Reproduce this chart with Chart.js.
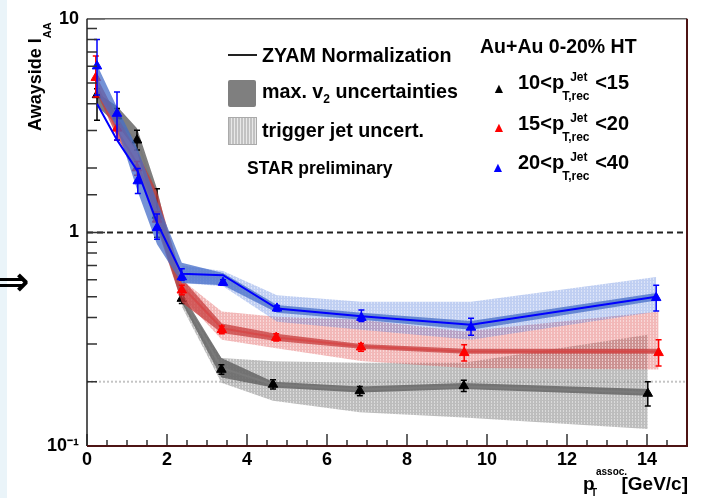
<!DOCTYPE html>
<html>
<head>
<meta charset="utf-8">
<script src="https://cdn.jsdelivr.net/npm/chart.js@4.4.1/dist/chart.umd.min.js"></script>
<style>
  body { margin: 0; background: #fff; }
  #wrap { position: relative; width: 703px; height: 498px; overflow: hidden;
          font-family: "Liberation Sans", Arial, sans-serif; font-weight: bold; color: #000; }
  #strip { position: absolute; left: 0; top: 0; width: 7px; height: 498px; background: #eaf4f9; }
  canvas { position: absolute; left: 0; top: 0; }
  .t { position: absolute; white-space: nowrap; line-height: 1; }
  .t sub { font-size: 12px; vertical-align: -5px; }
  .st { display: inline-block; position: relative; width: 31px; height: 1px; }
  .st .up { position: absolute; left: 6px; top: -17px; font-size: 12px; }
  .st .dn { position: absolute; left: -2px; top: 2px; font-size: 12px; }
  .tri { position: absolute; font-size: 14px; line-height: 1; }
</style>
</head>
<body>
<div id="wrap">
  <div id="strip"></div>
  <canvas id="c" width="703" height="498"></canvas>

  <div class="t" style="left:-4px;top:261px;font-family:'DejaVu Sans';font-size:40px;font-weight:bold">&rArr;</div>

  <div class="t" style="left:26px;top:131px;font-size:18px;line-height:18px;transform-origin:0 0;transform:rotate(-90deg)">Awayside I<sub style="font-size:11px;vertical-align:-10px">AA</sub></div>

  <div class="t" style="left:583px;top:474px;font-size:19px">p</div>
  <div class="t" style="left:596px;top:467px;font-size:10px">assoc.</div>
  <div class="t" style="left:591px;top:488px;font-size:10px">T</div>
  <div class="t" style="right:15px;top:474px;font-size:19px">[GeV/c]</div>

  <div class="t" style="left:228px;top:54px;width:29px;height:0;border-top:2px solid #222"></div>
  <div class="t" style="left:262px;top:46px;font-size:19.7px">ZYAM Normalization</div>
  <div class="t" style="left:228px;top:80px;width:28px;height:27px;background:#7f7f7f;border-radius:2px"></div>
  <div class="t" style="left:262px;top:82px;font-size:19.7px">max. v<sub>2</sub> uncertainties</div>
  <div class="t" style="left:228px;top:117px;width:27px;height:26px;border:1px solid #aaa;background:repeating-linear-gradient(90deg,#c2c2c2 0 2px,#e8e8e8 2px 3px)"></div>
  <div class="t" style="left:262px;top:121px;font-size:19.7px">trigger jet uncert.</div>
  <div class="t" style="left:247px;top:160px;font-size:17.5px">STAR preliminary</div>

  <div class="t" style="left:480px;top:37px;font-size:19.5px">Au+Au 0-20% HT</div>
  <div class="tri" style="left:492px;top:81px;color:#000">&#9650;</div>
  <div class="tri" style="left:492px;top:120px;color:#f00">&#9650;</div>
  <div class="tri" style="left:491px;top:160px;color:#00f">&#9650;</div>
  <div class="t" style="left:518px;top:72px;font-size:20px">10&lt;p<span class="st"><span class="up">Jet</span><span class="dn">T,rec</span></span>&lt;15</div>
  <div class="t" style="left:518px;top:113px;font-size:20px">15&lt;p<span class="st"><span class="up">Jet</span><span class="dn">T,rec</span></span>&lt;20</div>
  <div class="t" style="left:518px;top:152px;font-size:20px">20&lt;p<span class="st"><span class="up">Jet</span><span class="dn">T,rec</span></span>&lt;40</div>
</div>

<script>
// p_T^assoc. bin positions
const xBlack = [0.25, 0.75, 1.25, 1.75, 2.37, 3.36, 4.65, 6.82, 9.42, 14.02];
const xRed   = [0.22, 0.75, 1.25, 1.75, 2.37, 3.37, 4.73, 6.85, 9.43, 14.29];
const xBlue  = [0.25, 0.75, 1.27, 1.75, 2.37, 3.40, 4.75, 6.86, 9.60, 14.23];

// I_AA points with stat. errors
const iaaBlack   = [4.4, 3.5, 2.7, 1.2, 0.49, 0.228, 0.194, 0.181, 0.191, 0.176];
const errLoBlack = [3.35, 3.2, 2.43, 0.95, 0.465, 0.217, 0.185, 0.172, 0.18, 0.154];
const errHiBlack = [4.7, 3.8, 3.01, 1.6, 0.51, 0.24, 0.204, 0.19, 0.203, 0.2];
const iaaRed     = [5.3, 3.07, 2.0, 1.15, 0.536, 0.35, 0.322, 0.29, 0.273, 0.273];
const errLoRed   = [4.3, 2.7, 1.85, 1.05, 0.51, 0.335, 0.31, 0.278, 0.25, 0.237];
const errHiRed   = [6.7, 3.49, 2.15, 1.25, 0.565, 0.365, 0.335, 0.302, 0.298, 0.314];
const iaaBlue    = [6.0, 3.6, 1.74, 1.05, 0.618, 0.582, 0.441, 0.399, 0.359, 0.494];
const errLoBlue  = [4.4, 2.71, 1.52, 0.93, 0.597, 0.565, 0.428, 0.383, 0.33, 0.429];
const errHiBlue  = [8.0, 4.54, 1.99, 1.22, 0.676, 0.6, 0.455, 0.433, 0.396, 0.566];

// ZYAM normalization lines
const zyamBlack = [4.3, 3.3, 2.7, 1.45, 0.5, 0.232, 0.194, 0.184, 0.19, 0.178];
const zyamRed   = [5.0, 3.0, 2.1, 1.25, 0.56, 0.356, 0.322, 0.293, 0.277, 0.277];
const zyamBlue  = [4.0, 2.71, 1.93, 1.11, 0.64, 0.63, 0.44, 0.405, 0.37, 0.5];

// max. v2 uncertainty bands
const v2HiBlack = [4.5, 3.9, 3.07, 1.6, 0.52, 0.258, 0.2, 0.19, 0.197, 0.185];
const v2LoBlack = [3.9, 3.2, 2.4, 1.1, 0.47, 0.209, 0.188, 0.178, 0.185, 0.172];
const v2HiRed   = [5.45, 3.5, 2.4, 1.55, 0.61, 0.375, 0.335, 0.3, 0.285, 0.285];
const v2LoRed   = [4.6, 2.8, 1.95, 1.05, 0.47, 0.338, 0.31, 0.285, 0.27, 0.27];
const v2HiBlue  = [6.1, 3.85, 2.45, 1.4, 0.72, 0.645, 0.457, 0.42, 0.385, 0.52];
const v2LoBlue  = [4.5, 3.1, 1.55, 0.88, 0.58, 0.565, 0.42, 0.39, 0.35, 0.48];

// trigger jet uncertainty bands
const xTrigBlack  = [2.37, 3.36, 4.65, 6.82, 9.42, 14.02];
const trigHiBlack = [0.5, 0.258, 0.249, 0.245, 0.245, 0.332];
const trigLoBlack = [0.45, 0.198, 0.163, 0.144, 0.136, 0.12];
const xTrigRed    = [2.37, 3.37, 4.73, 6.85, 9.43, 14.29];
const trigHiRed   = [0.6, 0.426, 0.403, 0.39, 0.344, 0.426];
const trigLoRed   = [0.5, 0.314, 0.287, 0.25, 0.232, 0.228];
const xTrigBlue   = [2.37, 3.40, 4.75, 6.86, 9.60, 14.23];
const trigHiBlue  = [0.7, 0.66, 0.508, 0.474, 0.474, 0.618];
const trigLoBlue  = [0.58, 0.56, 0.382, 0.35, 0.314, 0.425];

// reference lines
const unityLine = 1;
const dottedLine = 0.2;

const pts = (xs, ys) => xs.map((x, i) => ({ x: x, y: ys[i] }));

function hatch(r, g, b, a) {
  const c = document.createElement('canvas');
  c.width = 3; c.height = 3;
  const g2 = c.getContext('2d');
  g2.fillStyle = 'rgba(' + r + ',' + g + ',' + b + ',' + a + ')';
  g2.fillRect(0, 0, 3, 3);
  g2.fillStyle = 'rgba(255,255,255,0.45)';
  g2.fillRect(2, 0, 1, 1);
  g2.fillRect(2, 2, 1, 1);
  return g2.createPattern(c, 'repeat');
}

function band(xs, lo, hi, fillStyle) {
  return [
    { data: pts(xs, lo), borderWidth: 0, pointRadius: 0, fill: false },
    { data: pts(xs, hi), borderWidth: 0, pointRadius: 0, fill: '-1', backgroundColor: fillStyle }
  ];
}

function group(o) {
  return [].concat(
    band(o.xt, o.tlo, o.thi, o.light),
    band(o.x, o.vlo, o.vhi, o.dark),
    [{ data: pts(o.x, o.zyam), borderColor: o.line, borderWidth: 2, pointRadius: 0, fill: false }],
    [{ data: pts(o.x, o.iaa), showLine: false, pointStyle: 'triangle', pointRadius: 5.5,
       backgroundColor: o.marker, borderColor: o.marker, errLo: o.elo, errHi: o.ehi }]
  );
}

const datasets = [].concat(
  group({ x: xBlack, iaa: iaaBlack, elo: errLoBlack, ehi: errHiBlack, zyam: zyamBlack,
          vlo: v2LoBlack, vhi: v2HiBlack, xt: xTrigBlack, tlo: trigLoBlack, thi: trigHiBlack,
          light: hatch(135, 135, 135, 0.55), dark: 'rgba(95,95,95,0.8)', line: '#7a7a7a', marker: '#000' }),
  group({ x: xRed, iaa: iaaRed, elo: errLoRed, ehi: errHiRed, zyam: zyamRed,
          vlo: v2LoRed, vhi: v2HiRed, xt: xTrigRed, tlo: trigLoRed, thi: trigHiRed,
          light: hatch(225, 85, 85, 0.42), dark: 'rgba(200,60,60,0.75)', line: 'rgba(215,70,70,0.85)', marker: '#f00' }),
  group({ x: xBlue, iaa: iaaBlue, elo: errLoBlue, ehi: errHiBlue, zyam: zyamBlue,
          vlo: v2LoBlue, vhi: v2HiBlue, xt: xTrigBlue, tlo: trigLoBlue, thi: trigHiBlue,
          light: hatch(90, 130, 220, 0.38), dark: 'rgba(70,110,200,0.75)', line: '#0000ff', marker: '#00f' })
);
// first listed is drawn first (at the back)
datasets.forEach((d, i) => { d.order = 100 - i; });

const isDecade = v => Math.abs(Math.log10(v) - Math.round(Math.log10(v))) < 1e-6;

const refLines = {
  id: 'refLines',
  beforeDatasetsDraw(chart) {
    const { ctx, chartArea: a, scales: { y } } = chart;
    ctx.save();
    let py = y.getPixelForValue(dottedLine);
    ctx.strokeStyle = '#c4c4c4';
    ctx.lineWidth = 2;
    ctx.setLineDash([2, 2]);
    ctx.beginPath(); ctx.moveTo(a.left, py); ctx.lineTo(a.right, py); ctx.stroke();
    py = y.getPixelForValue(unityLine);
    ctx.strokeStyle = '#222';
    ctx.setLineDash([6, 4]);
    ctx.beginPath(); ctx.moveTo(a.left, py); ctx.lineTo(a.right, py); ctx.stroke();
    ctx.restore();
  }
};

const errorBars = {
  id: 'errorBars',
  beforeDatasetDraw(chart, args) {
    const ds = chart.data.datasets[args.index];
    if (!ds.errLo) return;
    const { ctx, scales: { x, y } } = chart;
    ctx.save();
    ctx.strokeStyle = ds.borderColor;
    ctx.lineWidth = 1.5;
    ds.data.forEach((p, i) => {
      const px = x.getPixelForValue(p.x);
      const y1 = y.getPixelForValue(ds.errLo[i]);
      const y2 = y.getPixelForValue(ds.errHi[i]);
      ctx.beginPath();
      ctx.moveTo(px, y1); ctx.lineTo(px, y2);
      ctx.moveTo(px - 3, y1); ctx.lineTo(px + 3, y1);
      ctx.moveTo(px - 3, y2); ctx.lineTo(px + 3, y2);
      ctx.stroke();
    });
    ctx.restore();
  }
};

// ROOT style frame with ticks pointing inwards
const rootFrame = {
  id: 'rootFrame',
  afterDraw(chart) {
    const { ctx, chartArea: a, scales: { x, y } } = chart;
    ctx.save();
    ctx.lineWidth = 1.5;
    ctx.strokeStyle = '#333';
    ctx.beginPath();
    x.ticks.forEach(t => {
      const px = x.getPixelForValue(t.value);
      const len = t.value % 2 === 0 ? 12 : 6;
      ctx.moveTo(px, a.bottom); ctx.lineTo(px, a.bottom - len);
    });
    y.ticks.forEach(t => {
      const py = y.getPixelForValue(t.value);
      const len = isDecade(t.value) ? 18 : 10;
      ctx.moveTo(a.left, py); ctx.lineTo(a.left + len, py);
    });
    ctx.stroke();

    ctx.lineWidth = 1.5;
    ctx.strokeStyle = '#666';
    ctx.beginPath(); ctx.moveTo(a.left, a.top); ctx.lineTo(a.right, a.top); ctx.stroke();
    ctx.strokeStyle = '#222';
    ctx.beginPath(); ctx.moveTo(a.left, a.top); ctx.lineTo(a.left, a.bottom); ctx.stroke();
    ctx.lineWidth = 2;
    ctx.strokeStyle = '#4d1414';
    ctx.beginPath(); ctx.moveTo(a.left, a.bottom); ctx.lineTo(a.right, a.bottom); ctx.lineTo(a.right, a.top); ctx.stroke();
    ctx.restore();
  }
};

const tickFont = { family: '"Liberation Sans Narrow", "Liberation Sans", Arial, sans-serif', size: 18, weight: 'bold' };

new Chart(document.getElementById('c'), {
  type: 'line',
  data: { datasets: datasets },
  options: {
    responsive: false,
    devicePixelRatio: 1,
    animation: false,
    layout: { padding: { left: 0, right: 16, top: 15, bottom: 0 } },
    plugins: {
      legend: { display: false },
      tooltip: { enabled: false }
    },
    scales: {
      x: {
        type: 'linear',
        min: 0,
        max: 15,
        grid: { display: false, drawTicks: false },
        border: { display: false },
        ticks: {
          stepSize: 0.5,
          maxTicksLimit: 100,
          autoSkip: false,
          maxRotation: 0,
          padding: 3,
          color: '#000',
          font: tickFont,
          callback: v => (v % 2 === 0 ? String(v) : '')
        },
        afterFit(s) { s.height = 52; }
      },
      y: {
        type: 'logarithmic',
        min: 0.1,
        max: 10,
        grid: { display: false, drawTicks: false },
        border: { display: false },
        ticks: {
          autoSkip: false,
          padding: 8,
          color: '#000',
          font: tickFont,
          callback: v => {
            if (!isDecade(v)) return '';
            const e = Math.round(Math.log10(v));
            return e === 1 ? '10' : e === 0 ? '1' : '10\u207B\u00B9';
          }
        },
        afterFit(s) { s.width = 87; }
      }
    }
  },
  plugins: [refLines, errorBars, rootFrame]
});
</script>
</body>
</html>
